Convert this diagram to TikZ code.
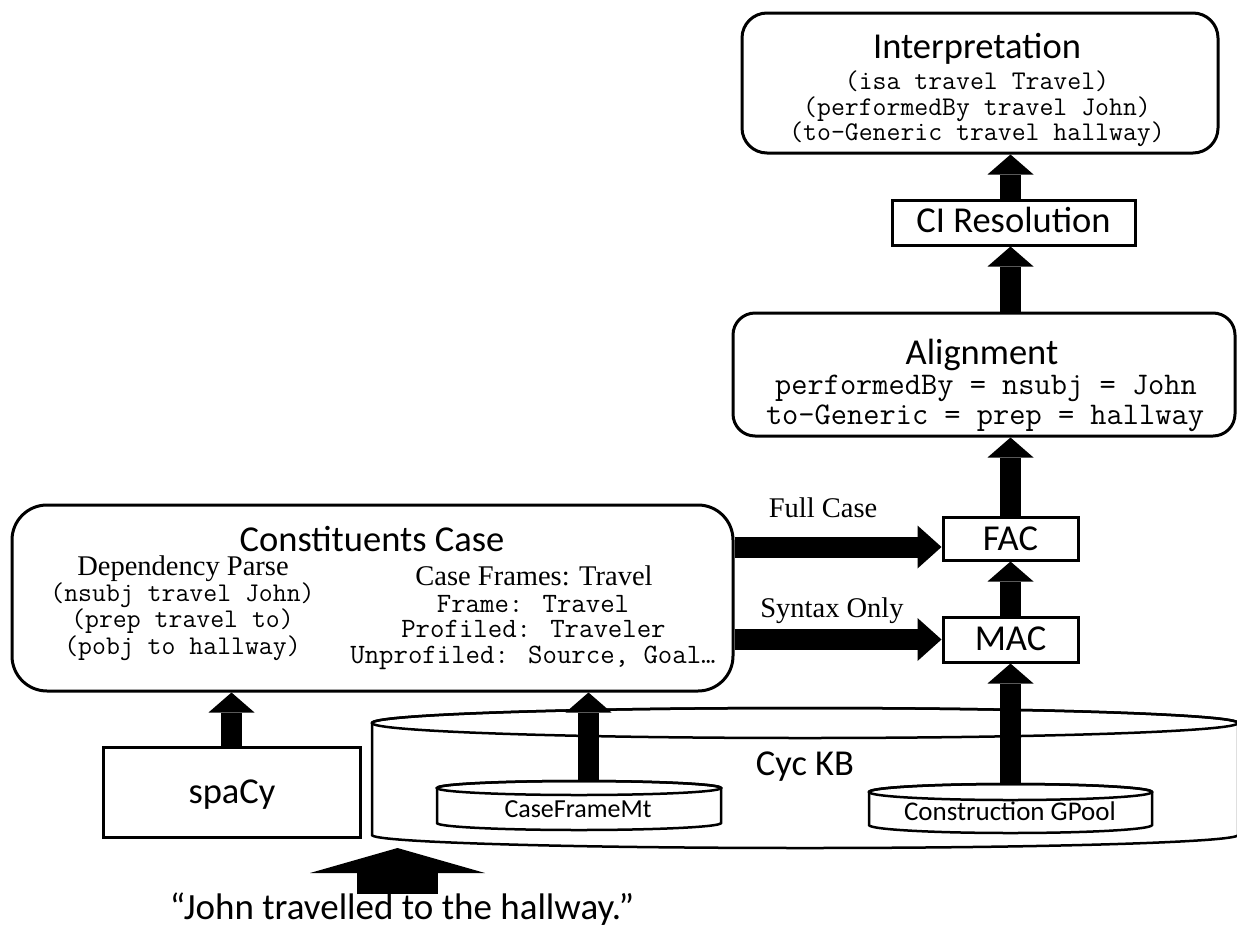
\documentclass[tikz,border=0pt]{standalone}
\usepackage{fontspec}
\setmainfont{Liberation Serif}
\newfontfamily\calfont{Carlito}
\usetikzlibrary{arrows.meta,calc}

\begin{document}
\begin{tikzpicture}[x=1pt,y=-1pt,
  box/.style={draw, line width=3pt, inner sep=0pt, fill=white},
  lbl/.style={anchor=base, inner sep=0pt, font=\calfont\fontsize{36.5}{36.5}\selectfont},
  small/.style={anchor=base, inner sep=0pt, font=\calfont\fontsize{27}{27}\selectfont},
  code/.style={anchor=base, inner sep=0pt, font=\ttfamily\fontsize{27}{27}\selectfont},
  bigcode/.style={anchor=base, inner sep=0pt, font=\ttfamily\fontsize{31.5}{31.5}\selectfont},
  tms/.style={anchor=base, inner sep=0pt, font=\fontsize{28.5}{28.5}\selectfont},
  cyl/.style={line width=2.5pt, fill=white},
  hole/.style={inner sep=0pt, outer sep=0pt},
  fat/.style={line width=21pt, -{Triangle[width=46pt,length=20pt,line width=0pt]}},
  fatside/.style={line width=21pt, -{Triangle[width=43pt,length=24pt,line width=0pt]}},
]
\useasboundingbox (0,0) rectangle (1237,932);

% ---- knowledge base cylinders ----
\node[hole, minimum width=866pt, minimum height=140pt] (kb) at (805,778) {};
\draw[cyl] (372,723) -- (372,835)
  arc[start angle=180, end angle=360, x radius=433pt, y radius=13pt]
  -- (1238,723)
  arc[start angle=0, end angle=180, x radius=433pt, y radius=15pt] -- cycle;
\draw[line width=2.5pt] (805,723) ellipse [x radius=433pt, y radius=15pt];
\node[lbl] (kbT) at (805,775) {Cyc KB};

\node[hole, minimum width=284pt, minimum height=49pt] (cfm) at (579,805.5) {};
\draw[cyl] (437,788) -- (437,823)
  arc[start angle=180, end angle=360, x radius=142pt, y radius=7pt]
  -- (721,788)
  arc[start angle=0, end angle=180, x radius=142pt, y radius=7pt] -- cycle;
\draw[line width=2.5pt] (579,788) ellipse [x radius=142pt, y radius=7pt];
\node[small, font=\calfont\fontsize{26}{26}\selectfont] (cfmT) at (578,817) {CaseFrameMt};

\node[hole, minimum width=283pt, minimum height=49pt] (gp) at (1010.5,808.5) {};
\draw[cyl] (869,792) -- (869,825)
  arc[start angle=180, end angle=360, x radius=141.5pt, y radius=8pt]
  -- (1152,792)
  arc[start angle=0, end angle=180, x radius=141.5pt, y radius=8pt] -- cycle;
\draw[line width=2.5pt] (1010.5,792) ellipse [x radius=141.5pt, y radius=8pt];
\node[small] (gpT) at (1010,820) {Construction GPool};

% ---- boxes ----
\node[box, rounded corners=25pt, minimum width=476pt, minimum height=140pt] (interp) at (980,83) {};
\node[lbl] (interpT) at (977,58) {Interpretation};
\node[code] (interp1) at (977,89.5) {(isa travel Travel)};
\node[code] (interp2) at (977,115) {(performedBy travel John)};
\node[code] (interp3) at (977,140.5) {(to-Generic travel hallway)};

\node[box, minimum width=243pt, minimum height=45pt] (ci) at (1013.5,222.5) {};
\node[lbl] (ciT) at (1013.5,232) {CI Resolution};

\node[box, rounded corners=22pt, minimum width=502pt, minimum height=123pt] (al) at (984,374.5) {};
\node[lbl] (alT) at (982,364) {Alignment};
\node[bigcode] (al1) at (986,394) {performedBy = nsubj = John};
\node[bigcode] (al2) at (985,424) {to-Generic = prep = hallway};

\node[box, minimum width=135pt, minimum height=43pt] (fac) at (1010.5,538.5) {};
\node[lbl] (facT) at (1010.5,550) {FAC};

\node[box, minimum width=135pt, minimum height=45pt] (mac) at (1010.5,639.5) {};
\node[lbl] (macT) at (1010.5,650) {MAC};

\node[box, rounded corners=35pt, minimum width=721pt, minimum height=186pt] (cc) at (372.5,598) {};
\node[lbl] (ccT) at (372,551) {Constituents Case};
\node[tms] (dpT) at (183,575.5) {Dependency Parse};
\node[code] (dp1) at (182.5,601) {(nsubj travel John)};
\node[code] (dp2) at (182.5,627.5) {(prep travel to)};
\node[code] (dp3) at (182.5,654) {(pobj to hallway)};
\node[tms] (cfT) at (534,585.5) {Case Frames: Travel};
\node[code, font=\ttfamily\fontsize{28}{28}\selectfont] (cf1) at (533,612) {Frame: Travel};
\node[code, font=\ttfamily\fontsize{28}{28}\selectfont] (cf2) at (533.5,637.5) {Profiled: Traveler};
\node[code, font=\ttfamily\fontsize{28}{28}\selectfont] (cf3) at (533,663) {Unprofiled: Source, Goal…};

\node[box, minimum width=257pt, minimum height=90pt] (spacy) at (231.5,792) {};
\node[lbl] (spacyT) at (232,803) {spaCy};

% ---- edge labels ----
\node[tms] (fullT) at (823,517) {Full Case};
\node[tms] (synT) at (832,617) {Syntax Only};

% ---- connectors (information flows upward) ----
\draw[fat] (ci.north -| fac.north) -- (interp.south -| fac.north);
\draw[fat] (al.north -| fac.north) -- (ci.south -| fac.north);
\draw[fat] (fac.north) -- (al.south -| fac.north);
\draw[fat] (mac.north) -- (fac.south);
\draw[fat] (gp.north) -- (mac.south);
\coordinate (cfmTop) at ($(cfm.north)+(9.5,0)$);
\draw[fat] (cfmTop) -- (cfmTop |- cc.south);
\draw[fat] (spacy.north) -- (spacy.north |- cc.south);
\draw[fatside] ($(cc.east |- fac.west)+(0,8.5)$) -- ($(fac.west)+(0,8.5)$);
\draw[fatside] (cc.east |- mac.west) -- (mac.west);

% ---- input sentence ----
\coordinate (inS) at (397.5,894);
\coordinate (inE) at (397.5,848);
\draw[line width=81pt, -{Triangle[width=175pt,length=25pt,line width=0pt]}] (inS) -- (inE);
\node[anchor=base, inner sep=0pt, font=\calfont\fontsize{37}{37}\selectfont] (sent) at (402,919) {“John travelled to the hallway.”};
\end{tikzpicture}
\end{document}
